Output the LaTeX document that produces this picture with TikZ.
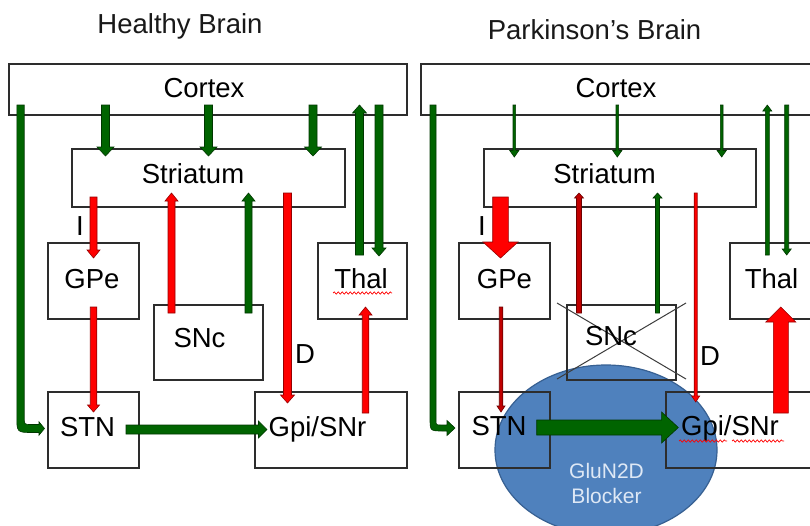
\documentclass[tikz,border=0pt]{standalone}
\usepackage{fontspec}
\setmainfont{Liberation Sans}
\usetikzlibrary{calc,shapes.geometric,decorations.pathmorphing}

\definecolor{boxline}{RGB}{45,45,45}
\definecolor{gfill}{RGB}{0,100,0}
\definecolor{gline}{RGB}{0,55,0}
\definecolor{rfill}{RGB}{255,0,0}
\definecolor{rline}{RGB}{150,0,0}
\definecolor{drfill}{RGB}{192,0,0}
\definecolor{drline}{RGB}{110,0,0}
\definecolor{efill}{RGB}{79,129,189}
\definecolor{eline}{RGB}{55,96,146}
\definecolor{etext}{RGB}{222,232,245}
\definecolor{crossline}{RGB}{60,60,60}

\tikzset{
  box/.style={rectangle,draw=boxline,line width=1.2pt,inner sep=0pt,outer sep=0pt},
  lbl/.style={anchor=base,inner sep=0pt,outer sep=0pt,font=\fontsize{27.5}{30}\selectfont,text=black},
  ttl/.style={anchor=base,inner sep=0pt,outer sep=0pt,font=\fontsize{27.5}{30}\selectfont,text=black!90},
  garr/.style={fill=gfill,draw=gline,line width=0.6pt,line join=miter},
  rarr/.style={fill=rfill,draw=rline,line width=0.6pt,line join=miter},
  drarr/.style={fill=drfill,draw=drline,line width=0.6pt,line join=miter},
  squig/.style={draw=red,line width=0.7pt,decorate,decoration={snake,segment length=4pt,amplitude=1.1pt}},
  xline/.style={draw=crossline,line width=1pt}
}

\newcommand\boxat[5]{\node[box,minimum width={(#4)-(#2)},minimum height={(#5)-(#3)}] (#1) at ({((#2)+(#4))/2},{((#3)+(#5))/2}) {};}

\newcommand\blockarr[6]{%
  \coordinate (hb) at ($(#2)!#5!(#1)$);
  \draw[#6] ($(#1)!#3!90:(#2)$) -- ($(hb)!#3!-90:(#1)$) -- ($(hb)!#4!-90:(#1)$) -- (#2) -- ($(hb)!#4!90:(#1)$) -- ($(hb)!#3!90:(#1)$) -- ($(#1)!#3!-90:(#2)$) -- cycle;}

\begin{document}
\begin{tikzpicture}[x=1pt,y=-1pt]
\useasboundingbox (0,0) rectangle (810,525);
\fill[white] (0,0) rectangle (810,525);
\clip (0,0) rectangle (810,525);

% titles
\node[ttl] (titleL) at (180,33.5) {Healthy Brain};
\node[ttl] (titleR) at (594.5,39) {Parkinson’s Brain};

% blocker ellipse (behind boxes)
\node[ellipse,draw=eline,fill=efill,line width=1.2pt,minimum width=222,minimum height=170,inner sep=0pt] (blocker) at (606,450) {};
\node[anchor=base,inner sep=0pt,font=\fontsize{21}{24}\selectfont,text=etext] (bl1) at (606.5,478) {GluN2D};
\node[anchor=base,inner sep=0pt,font=\fontsize{21}{24}\selectfont,text=etext] (bl2) at (606.5,503) {Blocker};

% ---------- left boxes ----------
\boxat{cortexL}{9}{64}{407}{115}
\boxat{striatumL}{72}{149}{345}{207}
\boxat{gpeL}{48}{243}{139}{319}
\boxat{thalL}{318}{243}{407}{319}
\boxat{sncL}{154}{305}{263}{380}
\boxat{stnL}{48}{392}{139}{468}
\boxat{gpiL}{255}{392}{407}{468}

% ---------- right boxes ----------
\boxat{cortexR}{421}{64}{816}{115}
\boxat{striatumR}{484}{149}{756}{207}
\boxat{gpeR}{459}{243}{550}{319}
\boxat{thalR}{730}{243}{816}{319}
\boxat{sncR}{567}{305}{676}{380}
\boxat{stnR}{459}{392}{550}{468}
\boxat{gpiR}{666}{392}{816}{468}

% SNc crossed out
\draw[xline] ($(sncR.north west)+(-10,-2)$) -- ($(sncR.south east)+(10,-1)$);
\draw[xline] ($(sncR.north east)+(10,-2)$) -- ($(sncR.south west)+(-10,-1)$);

% ---------- labels ----------
\node[lbl] (tCortexL) at (204,97) {Cortex};
\node[lbl] (tStriatumL) at (193,183) {Striatum};
\node[lbl] (tGPeL) at (92,288) {GPe};
\node[lbl] (tThalL) at (361,288) {Thal};
\node[lbl] (tSNcL) at (199.5,347) {SNc};
\node[lbl] (tSTNL) at (87.5,436) {STN};
\node[lbl] (tGpiL) at (317.5,436) {Gpi/SNr};
\node[lbl] (tIL) at (80,235) {I};
\node[lbl] (tDL) at (305,363) {D};

\node[lbl] (tCortexR) at (616,97) {Cortex};
\node[lbl] (tStriatumR) at (604.5,183) {Striatum};
\node[lbl] (tGPeR) at (504.5,288) {GPe};
\node[lbl] (tThalR) at (771.5,288) {Thal};
\node[lbl] (tSNcR) at (611,345) {SNc};
\node[lbl] (tSTNR) at (499,435) {STN};
\node[lbl] (tGpiR) at (730,435) {Gpi/SNr};
\node[lbl] (tIR) at (482,235) {I};
\node[lbl] (tDR) at (710,365) {D};

% spell-check squiggles
\draw[squig] (333,293) -- (392,293);
\draw[squig] (679,441) -- (727,441);
\draw[squig] (732,441) -- (784,441);

% ---------- left arrows ----------
\coordinate (l1s) at (105.5,105); \coordinate (l1e) at (105.5,156);
\coordinate (l2s) at (208.5,105); \coordinate (l2e) at (208.5,156);
\coordinate (l3s) at (313,105);   \coordinate (l3e) at (313,156);
\coordinate (l4s) at (359.5,255); \coordinate (l4e) at (359.5,105);
\coordinate (l5s) at (379,105);   \coordinate (l5e) at (379,256);
\coordinate (l6s) at (93.5,197);  \coordinate (l6e) at (93.5,258);
\coordinate (l7s) at (171.5,313); \coordinate (l7e) at (171.5,193);
\coordinate (l8s) at (248.5,313); \coordinate (l8e) at (248.5,193);
\coordinate (l9s) at (287.5,193); \coordinate (l9e) at (287.5,403);
\coordinate (l10s) at (93.5,307); \coordinate (l10e) at (93.5,412);
\coordinate (l11s) at (365.5,413);\coordinate (l11e) at (365.5,307);
\coordinate (l12s) at (126,429.5);\coordinate (l12e) at (267,429.5);

\blockarr{l1s}{l1e}{4pt}{8.5pt}{9pt}{garr}
\blockarr{l2s}{l2e}{4pt}{8.5pt}{9pt}{garr}
\blockarr{l3s}{l3e}{4pt}{8.5pt}{9pt}{garr}
\blockarr{l4s}{l4e}{4pt}{7pt}{8pt}{garr}
\blockarr{l5s}{l5e}{4pt}{7pt}{8pt}{garr}
\blockarr{l6s}{l6e}{3.5pt}{6.5pt}{8pt}{rarr}
\blockarr{l7s}{l7e}{3.5pt}{6.5pt}{8pt}{rarr}
\blockarr{l8s}{l8e}{3.5pt}{6.5pt}{8pt}{garr}
\blockarr{l9s}{l9e}{4pt}{7pt}{8pt}{rarr}
\blockarr{l10s}{l10e}{3.25pt}{6pt}{7pt}{rarr}
\blockarr{l11s}{l11e}{3.25pt}{6.5pt}{8pt}{rarr}
\blockarr{l12s}{l12e}{4.5pt}{8.5pt}{8.5pt}{garr}

% bent cortex -> STN (left)
\draw[garr] (16.8,105) -- (16.8,416) .. controls (16.8,432.5) .. (33,432.5) -- (39,432.5) -- (39,435.2) -- (44.5,428.5) -- (39,421.8) -- (39,424.5) -- (31,424.5) .. controls (24.2,424.5) .. (24.2,417) -- (24.2,105) -- cycle;

% ---------- right arrows ----------
\coordinate (r1s) at (514.3,105); \coordinate (r1e) at (514.3,157);
\coordinate (r2s) at (617.3,105); \coordinate (r2e) at (617.3,157);
\coordinate (r3s) at (721.7,105); \coordinate (r3e) at (721.7,157);
\coordinate (r4s) at (767.3,255); \coordinate (r4e) at (767.3,105);
\coordinate (r5s) at (786.7,105); \coordinate (r5e) at (786.7,255);
\coordinate (r6s) at (500.5,197); \coordinate (r6e) at (500.5,258);
\coordinate (r7s) at (579,313);   \coordinate (r7e) at (579,193);
\coordinate (r8s) at (657.5,313); \coordinate (r8e) at (657.5,193);
\coordinate (r9s) at (695.7,193); \coordinate (r9e) at (695.7,402);
\coordinate (r10s) at (501,307);  \coordinate (r10e) at (501,412);
\coordinate (r11s) at (780.8,413);\coordinate (r11e) at (780.8,307);
\coordinate (r12s) at (536.7,427.5);\coordinate (r12e) at (678.3,427.5);

\blockarr{r1s}{r1e}{1.3pt}{4.6pt}{6.5pt}{garr}
\blockarr{r2s}{r2e}{1.3pt}{4.6pt}{6.5pt}{garr}
\blockarr{r3s}{r3e}{1.3pt}{4.6pt}{6.5pt}{garr}
\blockarr{r4s}{r4e}{2pt}{4.5pt}{6pt}{garr}
\blockarr{r5s}{r5e}{2pt}{4.5pt}{6pt}{garr}
\blockarr{r6s}{r6e}{7.8pt}{17.5pt}{16pt}{rarr}
\blockarr{r7s}{r7e}{2.5pt}{4.5pt}{5pt}{drarr}
\blockarr{r8s}{r8e}{2pt}{4.5pt}{5pt}{garr}
\blockarr{r9s}{r9e}{1.5pt}{4pt}{6pt}{rarr}
\blockarr{r10s}{r10e}{1.75pt}{4pt}{6pt}{drarr}
\blockarr{r11s}{r11e}{7.5pt}{15pt}{15pt}{rarr}
\blockarr{r12s}{r12e}{7.5pt}{15.5pt}{16.7pt}{garr}

% bent cortex -> STN (right)
\draw[garr] (430,105) -- (430,418) .. controls (430,431) .. (443,431) -- (447,431) -- (447,435.5) -- (455,428) -- (447,420.5) -- (447,425) -- (441,425) .. controls (436,425) .. (436,420) -- (436,105) -- cycle;

\end{tikzpicture}
\end{document}
